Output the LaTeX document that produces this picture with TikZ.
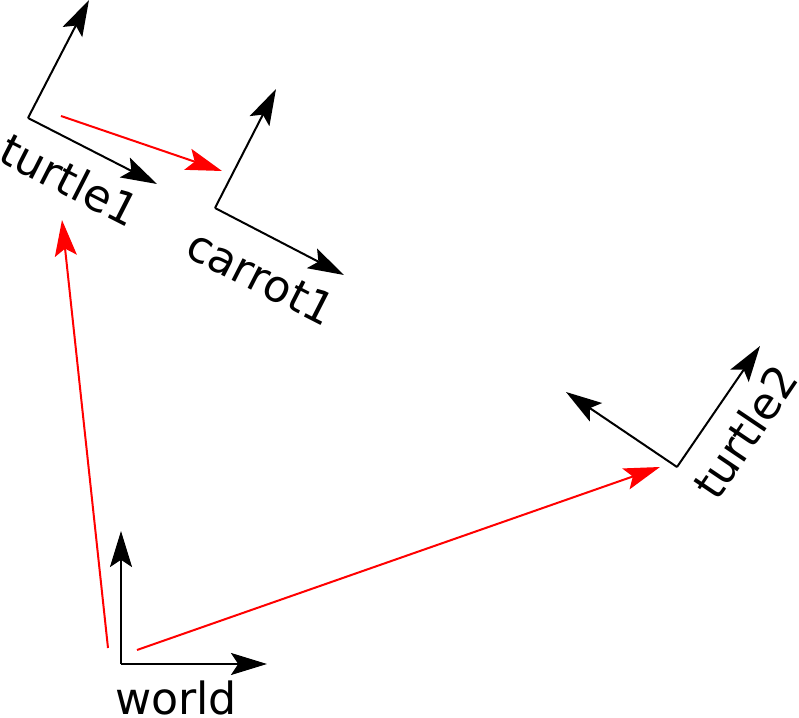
\documentclass[tikz,border=0pt]{standalone}
\usepackage{fontspec}
\setmainfont{DejaVu Sans}
\usetikzlibrary{arrows.meta}
\tikzset{
  axis/.style={draw=black, line width=0.05cm, -{Stealth[length=0.9cm, width=0.55cm, inset=0.18cm]}},
  tfarrow/.style={axis, draw=red, fill=red},
  framelabel/.style={font=\fontsize{31.5}{38}\selectfont, inner sep=0pt}
}
\begin{document}
\begin{tikzpicture}
\useasboundingbox (0,0) rectangle (19.975,17.925);
% frame origins and axis tips
\coordinate (world) at (3.025,1.325);
\coordinate (worldx) at (6.675,1.325);
\coordinate (worldy) at (3.025,4.65);
\coordinate (turtle1) at (0.7,14.975);
\coordinate (turtle1x) at (3.925,13.325);
\coordinate (turtle1y) at (2.225,17.925);
\coordinate (carrot1) at (5.375,12.725);
\coordinate (carrot1x) at (8.6,11.05);
\coordinate (carrot1y) at (6.9,15.7);
\coordinate (turtle2) at (16.925,6.25);
\coordinate (turtle2x) at (19.0,9.275);
\coordinate (turtle2y) at (14.15,8.125);
% ends of the red arrows
\coordinate (w1) at (2.7,1.725);
\coordinate (w2) at (3.425,1.675);
\coordinate (t1in) at (1.55,12.425);
\coordinate (t1out) at (1.525,15.025);
\coordinate (c1in) at (5.55,13.65);
\coordinate (t2in) at (16.5,6.25);
\draw [axis] (world)--(worldx);
\draw [axis] (world)--(worldy);
\draw [axis] (turtle1)--(turtle1x);
\draw [axis] (turtle1)--(turtle1y);
\draw [axis] (carrot1)--(carrot1x);
\draw [axis] (carrot1)--(carrot1y);
\draw [axis] (turtle2)--(turtle2x);
\draw [axis] (turtle2)--(turtle2y);
\draw [tfarrow] (w1)--(t1in);
\draw [tfarrow] (w2)--(t2in);
\draw [tfarrow] (t1out)--(c1in);
\node [framelabel, anchor=base] (worldlabel) at (4.4,0.075) {world};
\node [framelabel, rotate=-27] (turtle1label) at (1.75,13.425) {turtle1};
\node [framelabel, rotate=-27] (carrot1label) at (6.525,11.0) {carrot1};
\node [framelabel, rotate=56] (turtle2label) at (18.625,7.125) {turtle2};
\end{tikzpicture}
\end{document}
